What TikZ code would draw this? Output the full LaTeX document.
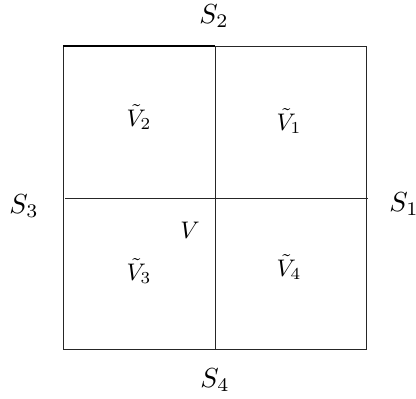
\documentclass[tikz,border=0pt]{standalone}
\usepackage{graphicx}
\newcommand{\slbl}[1]{\scalebox{2.75}{$#1$}}
\newcommand{\vlb}[1]{\scalebox{2.4}{$#1$}}
\begin{document}
\begin{tikzpicture}[x=1pt,y=-1pt,
  edge/.style={line width=0.8pt,draw=black!85},
  lbl/.style={inner sep=0pt}]
\useasboundingbox (0,0) rectangle (416,399);
\coordinate (tl) at (63,46);
\coordinate (tm) at (215,46);
\coordinate (tr) at (366,46);
\coordinate (bl) at (63,349);
\coordinate (bm) at (215,349);
\coordinate (br) at (366,349);
\coordinate (ml) at (65,198);
\coordinate (mr) at (368,198);
\draw[edge] (tm) -- (tr) -- (br) -- (bl) -- (tl);
\draw[line width=1.3pt] (tl) -- (tm);
\draw[edge] (tm) -- (bm);
\draw[edge] (ml) -- (mr);
\node[lbl] (s2) at (214,16) {\slbl{S_2}};
\node[lbl] (s1) at (404,204) {\slbl{S_1}};
\node[lbl] (s3) at (24,206) {\slbl{S_3}};
\node[lbl] (s4) at (215,380) {\slbl{S_4}};
\node[lbl] (v2) at (139,117) {\vlb{\tilde V_2}};
\node[lbl] (v1) at (289,121) {\vlb{\tilde V_1}};
\node[lbl] (v) at (190,230) {\vlb{V}};
\node[lbl] (v3) at (139,271) {\vlb{\tilde V_3}};
\node[lbl] (v4) at (289,267) {\vlb{\tilde V_4}};
\end{tikzpicture}
\end{document}
